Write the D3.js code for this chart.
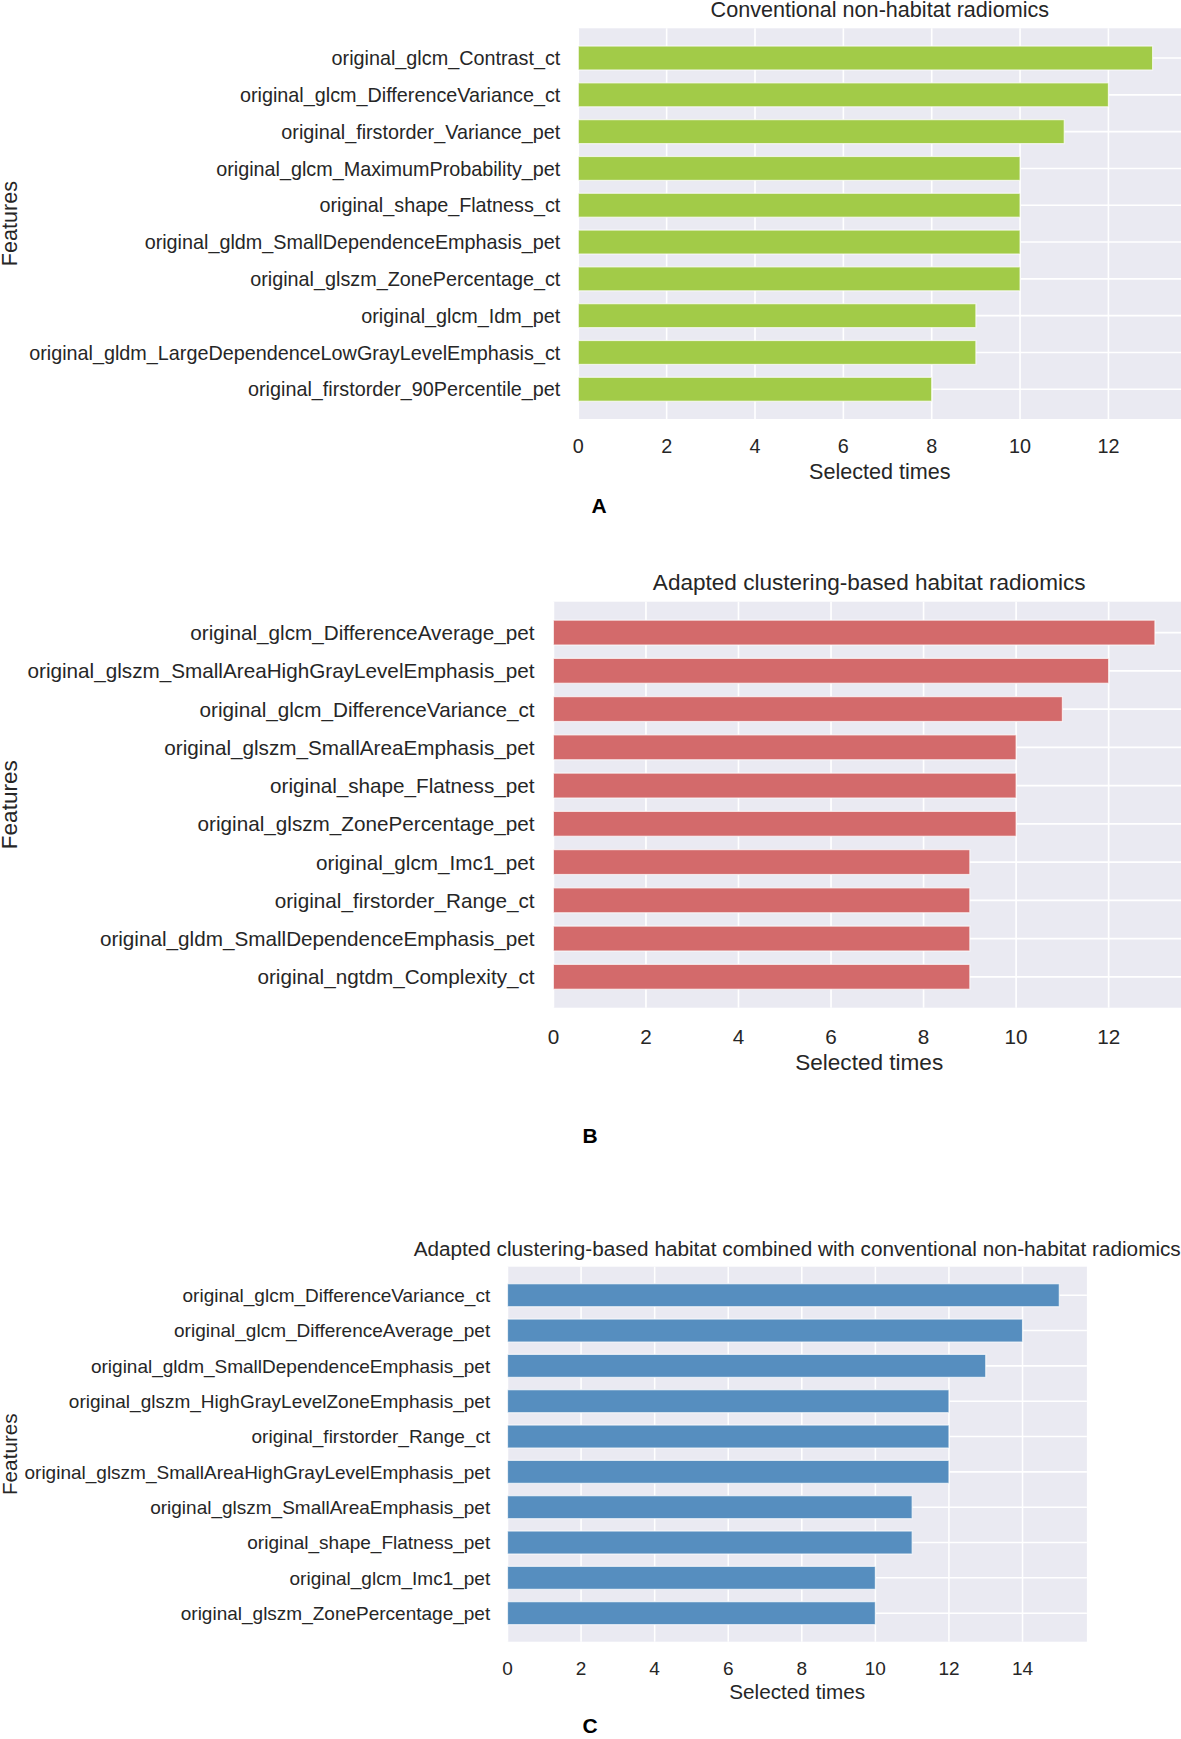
<!DOCTYPE html>
<html>
<head>
<meta charset="utf-8">
<script src="https://cdn.jsdelivr.net/npm/d3@7"></script>
<style>
  html, body { margin: 0; padding: 0; background: #ffffff; }
  svg { display: block; }
  text { font-family: "Liberation Sans", Arial, Helvetica, sans-serif; fill: #262626; }
</style>
</head>
<body>
<svg id="chart" width="1181" height="1739"></svg>
<script>
// ---------- data ----------
const titleA = "Conventional non-habitat radiomics";
const featuresA = [
  "original_glcm_Contrast_ct",
  "original_glcm_DifferenceVariance_ct",
  "original_firstorder_Variance_pet",
  "original_glcm_MaximumProbability_pet",
  "original_shape_Flatness_ct",
  "original_gldm_SmallDependenceEmphasis_pet",
  "original_glszm_ZonePercentage_ct",
  "original_glcm_Idm_pet",
  "original_gldm_LargeDependenceLowGrayLevelEmphasis_ct",
  "original_firstorder_90Percentile_pet"
];
const valuesA = [13, 12, 11, 10, 10, 10, 10, 9, 9, 8];
const ticksA = [0, 2, 4, 6, 8, 10, 12];

const titleB = "Adapted clustering-based habitat radiomics";
const featuresB = [
  "original_glcm_DifferenceAverage_pet",
  "original_glszm_SmallAreaHighGrayLevelEmphasis_pet",
  "original_glcm_DifferenceVariance_ct",
  "original_glszm_SmallAreaEmphasis_pet",
  "original_shape_Flatness_pet",
  "original_glszm_ZonePercentage_pet",
  "original_glcm_Imc1_pet",
  "original_firstorder_Range_ct",
  "original_gldm_SmallDependenceEmphasis_pet",
  "original_ngtdm_Complexity_ct"
];
const valuesB = [13, 12, 11, 10, 10, 10, 9, 9, 9, 9];
const ticksB = [0, 2, 4, 6, 8, 10, 12];

const titleC = "Adapted clustering-based habitat combined with conventional non-habitat radiomics";
const featuresC = [
  "original_glcm_DifferenceVariance_ct",
  "original_glcm_DifferenceAverage_pet",
  "original_gldm_SmallDependenceEmphasis_pet",
  "original_glszm_HighGrayLevelZoneEmphasis_pet",
  "original_firstorder_Range_ct",
  "original_glszm_SmallAreaHighGrayLevelEmphasis_pet",
  "original_glszm_SmallAreaEmphasis_pet",
  "original_shape_Flatness_pet",
  "original_glcm_Imc1_pet",
  "original_glszm_ZonePercentage_pet"
];
const valuesC = [15, 14, 13, 12, 12, 12, 11, 11, 10, 10];
const ticksC = [0, 2, 4, 6, 8, 10, 12, 14];

const xLabel = "Selected times";
const yLabel = "Features";
const panelLetters = ["A", "B", "C"];

// ---------- layout / style (kept separate from data) ----------
const layouts = [
  { left: 578.3, top: 28.3, bottom: 419, width: 603, s: 1.0, letterX: 599, letterY: 513, color: "#a2cb48" },
  { left: 553.4, top: 601.7, bottom: 1007.7, width: 631.6, s: 1.045, letterX: 590, letterY: 1142.5, color: "#d36a6b" },
  { left: 507.5, top: 1266.7, bottom: 1641.7, width: 579.4, s: 0.96, letterX: 590, letterY: 1733, color: "#568ebf" }
];
const panelsData = [
  { title: titleA, feats: featuresA, vals: valuesA, ticks: ticksA },
  { title: titleB, feats: featuresB, vals: valuesB, ticks: ticksB },
  { title: titleC, feats: featuresC, vals: valuesC, ticks: ticksC }
];

const svg = d3.select("#chart");
svg.append("rect").attr("width", 1181).attr("height", 1739).attr("fill", "#ffffff");

const barH = 0.65;

panelsData.forEach((p, k) => {
  const L = layouts[k];
  const s = L.s;
  const n = p.feats.length;
  const xmax = d3.max(p.vals) * 1.05;
  const x = d3.scaleLinear().domain([0, xmax]).range([L.left, L.left + L.width]);
  const pad = (n - 1 + barH) * 0.05 + barH / 2;
  const y = d3.scaleLinear().domain([-pad, n - 1 + pad]).range([L.top, L.bottom]);

  const g = svg.append("g");

  // background
  g.append("rect")
    .attr("x", x(0)).attr("y", L.top)
    .attr("width", x(xmax) - x(0)).attr("height", L.bottom - L.top)
    .attr("fill", "#eaeaf2");

  // vertical grid
  g.selectAll(".vg").data(p.ticks).enter().append("line")
    .attr("x1", d => x(d)).attr("x2", d => x(d))
    .attr("y1", L.top).attr("y2", L.bottom)
    .attr("stroke", "#ffffff").attr("stroke-width", 1.6 * s);

  // horizontal grid at category centers
  g.selectAll(".hg").data(p.feats).enter().append("line")
    .attr("x1", x(0)).attr("x2", x(xmax))
    .attr("y1", (d, i) => y(i)).attr("y2", (d, i) => y(i))
    .attr("stroke", "#ffffff").attr("stroke-width", 1.6 * s);

  // bars
  g.selectAll(".bar").data(p.vals).enter().append("rect")
    .attr("x", x(0))
    .attr("y", (d, i) => y(i - barH / 2))
    .attr("width", d => x(d) - x(0))
    .attr("height", y(barH) - y(0))
    .attr("fill", L.color)
    .attr("stroke", "#ffffff").attr("stroke-opacity", 0.7).attr("stroke-width", 1.2);

  // y tick labels
  g.selectAll(".yt").data(p.feats).enter().append("text")
    .attr("x", x(0) - 18 * s)
    .attr("y", (d, i) => y(i))
    .attr("dy", "0.36em")
    .attr("text-anchor", "end")
    .attr("font-size", 19.8 * s)
    .text(d => d);

  // x tick labels
  g.selectAll(".xt").data(p.ticks).enter().append("text")
    .attr("x", d => x(d))
    .attr("y", L.bottom + 34.3 * s)
    .attr("text-anchor", "middle")
    .attr("font-size", 19.8 * s)
    .text(d => d);

  // title
  g.append("text")
    .attr("x", (x(0) + x(xmax)) / 2)
    .attr("y", L.top - 11.5 * s)
    .attr("text-anchor", "middle")
    .attr("font-size", 21.6 * s)
    .text(p.title);

  // x label
  g.append("text")
    .attr("x", (x(0) + x(xmax)) / 2)
    .attr("y", L.bottom + 60 * s)
    .attr("text-anchor", "middle")
    .attr("font-size", 21.6 * s)
    .text(xLabel);

  // y label
  g.append("text")
    .attr("transform", `translate(${17}, ${(L.top + L.bottom) / 2}) rotate(-90)`)
    .attr("text-anchor", "middle")
    .attr("font-size", 21.6 * s)
    .text(yLabel);

  // panel letter
  g.append("text")
    .attr("x", L.letterX)
    .attr("y", L.letterY)
    .attr("text-anchor", "middle")
    .attr("font-size", 21)
    .attr("font-weight", "bold")
    .style("fill", "#000000")
    .text(panelLetters[k]);
});
</script>
</body>
</html>
